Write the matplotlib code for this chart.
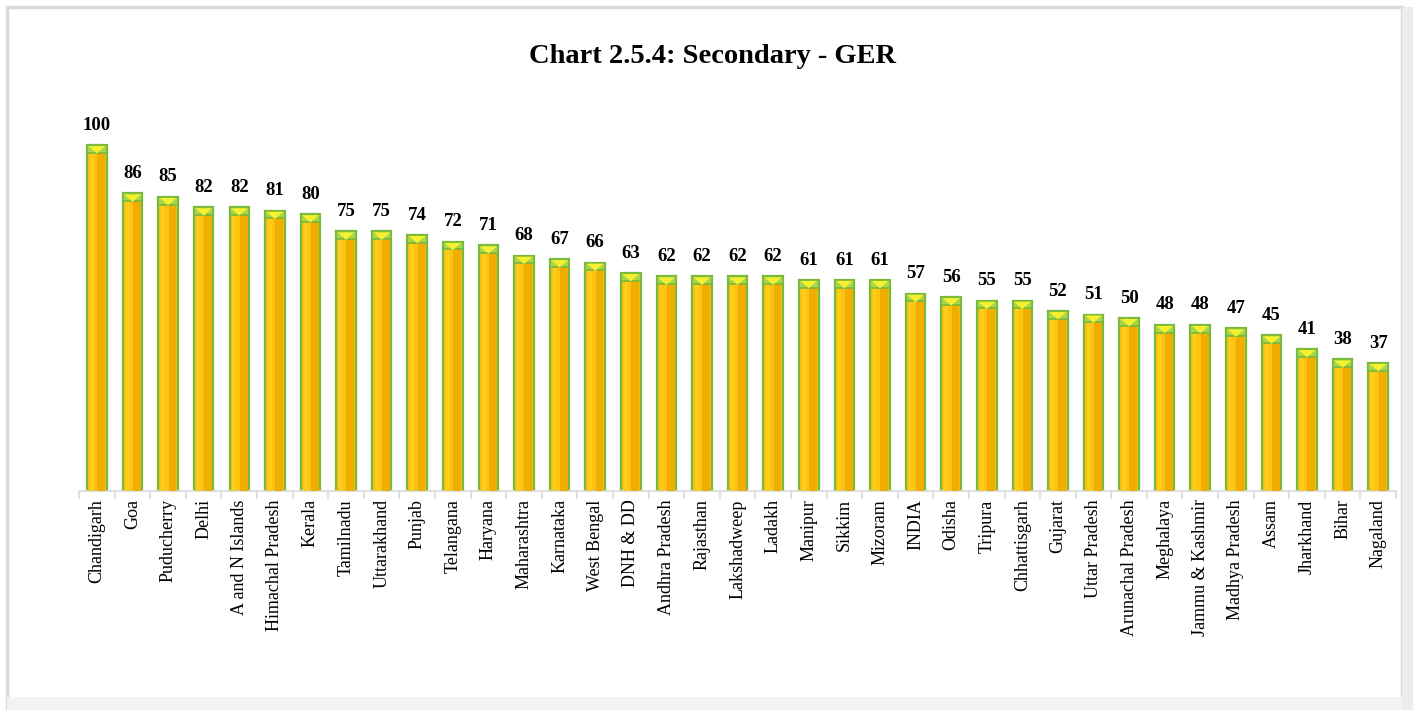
import numpy as np
import matplotlib
matplotlib.use("Agg")
import matplotlib.pyplot as plt
from matplotlib.patches import Rectangle, Polygon

states = ["Chandigarh", "Goa", "Puducherry", "Delhi", "A and N Islands",
          "Himachal Pradesh", "Kerala", "Tamilnadu", "Uttarakhand", "Punjab",
          "Telangana", "Haryana", "Maharashtra", "Karnataka", "West Bengal",
          "DNH & DD", "Andhra Pradesh", "Rajasthan", "Lakshadweep", "Ladakh",
          "Manipur", "Sikkim", "Mizoram", "INDIA", "Odisha", "Tripura",
          "Chhattisgarh", "Gujarat", "Uttar Pradesh", "Arunachal Pradesh",
          "Meghalaya", "Jammu & Kashmir", "Madhya Pradesh", "Assam",
          "Jharkhand", "Bihar", "Nagaland"]
ger = [100, 86, 85, 82, 82, 81, 80, 75, 75, 74, 72, 71, 68, 67, 66, 63, 62,
       62, 62, 62, 61, 61, 61, 57, 56, 55, 55, 52, 51, 50, 48, 48, 47, 45,
       41, 38, 37]

plt.rcParams["font.family"] = ["Liberation Serif", "DejaVu Serif"]

fig = plt.figure(figsize=(14.13, 7.10), dpi=100)

# frame around the chart
fig.patches.append(Rectangle((0.005, 0.0), 0.987, 0.99, transform=fig.transFigure,
                             fill=False, edgecolor="#d9d9d9", linewidth=2.5))
fig.patches.append(Rectangle((0.992, 0.0), 0.008, 0.99, transform=fig.transFigure,
                             facecolor="#ececec", edgecolor="none"))
fig.patches.append(Rectangle((0.005, 0.0), 0.987, 0.018, transform=fig.transFigure,
                             facecolor="#f3f3f3", edgecolor="none"))

ax = fig.add_axes([0.056, 0.3085, 0.932, 0.536])
x = np.arange(len(states))
w = 0.55
ymax = 110

# main bar body
ax.bar(x, ger, width=w, color="#FFC20E", edgecolor="#78B83A", linewidth=1.6, zorder=2)
# darker right side
ax.bar(x + w * 0.22, ger, width=w * 0.4, color="#F0AE00", edgecolor="none", zorder=3)
# light left highlight
ax.bar(x - w * 0.25, ger, width=w * 0.2, color="#FFCC1E", edgecolor="none", zorder=3)

# bevelled top cap
cap = 2.2
for xi, v in zip(x, ger):
    l, r = xi - w / 2, xi + w / 2
    ax.add_patch(Polygon([(l, v), (r, v), (r, v - cap), (l, v - cap)],
                         closed=True, facecolor="#A6D64F", edgecolor="#78B83A",
                         linewidth=1.2, zorder=4))
    ax.add_patch(Polygon([(l + 0.04, v - 0.3), (r - 0.04, v - 0.3), (xi, v - cap * 1.1)],
                         closed=True, facecolor="#F7F02C", edgecolor="none", zorder=5))
    ax.text(xi, v + 3.3, f"{v}", ha="center", va="bottom", fontsize=13.5,
            fontweight="bold", zorder=6)

ax.set_xlim(-0.5, len(states) - 0.5)
ax.set_ylim(0, ymax)
ax.set_xticks(x)
ax.set_xticklabels(states, rotation=90, fontsize=13)
ax.set_xticks(np.arange(len(states) + 1) - 0.5, minor=True)
ax.tick_params(axis="x", which="major", length=0, pad=6)
ax.tick_params(axis="x", which="minor", length=6, color="#d9d9d9", width=1.2)
ax.set_yticks([])
for side in ["top", "right", "left"]:
    ax.spines[side].set_visible(False)
ax.spines["bottom"].set_color("#d9d9d9")
ax.spines["bottom"].set_linewidth(1.2)
ax.patch.set_alpha(0)

fig.text(0.504, 0.921, "Chart 2.5.4: Secondary - GER", ha="center", va="center",
         fontsize=20.5, fontweight="bold")

fig.savefig("out.png", dpi=100)
